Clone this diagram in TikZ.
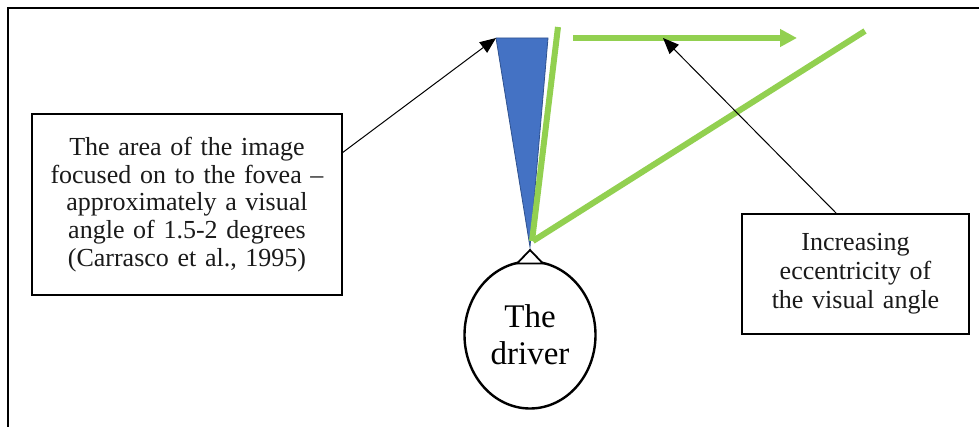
\documentclass[tikz,border=0pt]{standalone}
\usepackage{fontspec}
\setmainfont{Liberation Serif}
\usetikzlibrary{arrows.meta,shapes.geometric}
\definecolor{fovblue}{HTML}{4472C4}
\definecolor{fovedge}{HTML}{2F528F}
\definecolor{rayg}{HTML}{92D050}
\definecolor{inkgray}{HTML}{1A1A1A}
\tikzset{
  textbox/.style={draw=black, line width=1.6pt, fill=white, align=center,
    inner sep=0pt, text=inkgray, font=\fontsize{26}{27.6}\selectfont},
  pointer/.style={draw=black, line width=1pt,
    -{Triangle[length=16pt,width=13pt]}},
  ray/.style={draw=rayg, line width=6pt},
}
\begin{document}
\begin{tikzpicture}[x=1pt,y=-1pt]
\useasboundingbox (0,0) rectangle (979,427);
% outer frame (runs past the right and bottom edges)
\draw[line width=2pt] (8,440) -- (8,8.5) -- (990,8.5);

% fovea wedge
\coordinate (fovTL) at (496,38);
\coordinate (fovTR) at (548,38);
\coordinate (fovApex) at (530,247);
\fill[fovblue, draw=fovedge, line width=0.8pt] (fovTL) -- (fovTR) -- (fovApex) -- cycle;

% viewing rays
\coordinate (rayA1) at (558,27);
\coordinate (rayA2) at (532,241);
\coordinate (rayB1) at (865,31);
\coordinate (rayB2) at (533,241);
\coordinate (arrS) at (573,38);
\coordinate (arrE) at (797,38);
\draw[ray] (rayA1) -- (rayA2);
\draw[ray] (rayB1) -- (rayB2);
\draw[ray, -{Triangle[length=17pt,width=17pt]}] (arrS) -- (arrE);

% the driver
\node[ellipse, draw=black, line width=2.4pt, fill=white,
  minimum width=131pt, minimum height=147pt, inner sep=0pt,
  font=\fontsize{33}{37}\selectfont, align=center]
  (driver) at (530,335) {The\\driver};
\coordinate (eyeTip) at (530,250);
\coordinate (eyeL) at (517,263.5);
\coordinate (eyeR) at (543,263.5);
\filldraw[fill=white, draw=black, line width=1.8pt, line join=miter]
  (eyeL) -- (eyeTip) -- (eyeR) -- cycle;

% annotation boxes
\node[textbox, minimum width=310pt, minimum height=181pt, text width=300pt]
  (lbox) at (187,204.5)
  {The area of the image\\focused on to the fovea –\\approximately a visual\\angle of 1.5-2 degrees\\(Carrasco et al., 1995)};
\node[textbox, minimum width=227pt, minimum height=120pt, text width=220pt,
  font=\fontsize{26}{29}\selectfont]
  (rbox) at (855.5,274)
  {Increasing\\eccentricity of\\the visual angle};

% pointers
\coordinate (lboxOut) at (342,153);
\coordinate (rboxOut) at (837,214);
\coordinate (arrMid) at (663,38);
\draw[pointer] (lboxOut) -- (fovTL);
\draw[pointer] (rboxOut) -- (arrMid);
\end{tikzpicture}
\end{document}
